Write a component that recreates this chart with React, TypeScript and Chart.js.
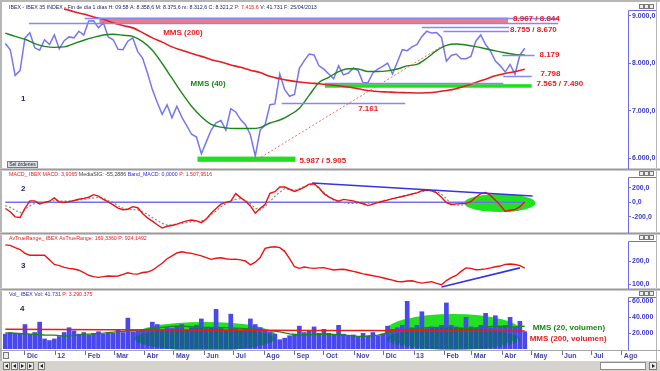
import React, { useEffect, useRef } from "react";
import { Chart, registerables } from "chart.js";

Chart.register(...registerables);

// ---------- calendar helpers (x axis = days since 1 Dic 2011) ----------
const DAY_MS = 86400000;
const ORIGIN = Date.UTC(2011, 11, 1);
const D = (y: number, m: number, d: number) => Math.round((Date.UTC(y, m - 1, d) - ORIGIN) / DAY_MS);

// ---------- axis ticks ----------
const monthTickLabels = ["Dic", "12", "Feb", "Mar", "Abr", "May", "Jun", "Jul", "Ago", "Sep", "Oct", "Nov", "Dic", "13", "Feb", "Mar", "Abr", "May", "Jun", "Jul", "Ago"];
const monthTickStarts: [number, number][] = [
  [2011, 12], [2012, 1], [2012, 2], [2012, 3], [2012, 4], [2012, 5], [2012, 6], [2012, 7], [2012, 8], [2012, 9], [2012, 10], [2012, 11], [2012, 12],
  [2013, 1], [2013, 2], [2013, 3], [2013, 4], [2013, 5], [2013, 6], [2013, 7], [2013, 8],
];
const priceTicks = [6000, 7000, 8000, 9000];
const macdTicks = [-200, 0, 200];
const atrTicks = [100, 200];
const volTicks = [20000, 40000, 60000];

// ---------- series (sampled every STEP days from SERIES_FIRST) ----------
const SERIES_FIRST = D(2011, 11, 11);
const STEP = 5;
const MA_STEP = 10;
const MA200_FIRST = D(2012, 1, 10);
const VOL_MA200_STEP = 53;

const ibexClose = [
  8420, 8290, 7750, 7850, 8537, 8650, 8330, 8280, 8500, 8400,
  8600, 8310, 8480, 8560, 8540, 8680, 8600, 8895, 8900, 8750,
  8860, 8560, 8500, 8300, 8290, 8470, 8540, 8250, 8115, 7800,
  7450, 7180, 6930, 7130, 6860, 7100, 6870, 6690, 6510, 6450,
  6100, 6350, 6600, 6750, 6800, 6600, 7050, 6980, 6820, 6710,
  6500, 6050, 6600, 6710, 7133, 7150, 7780, 7450, 7310, 7350,
  7900, 8060, 8200, 8180, 7950, 7880, 7780, 7680, 7950, 7760,
  7800, 7905, 7850, 7590, 7600, 7800, 7880, 7940, 8010, 7780,
  8030, 8290, 8270, 8350, 8400, 8570, 8680, 8640, 8650, 8550,
  8050, 8170, 8200, 8100, 8100, 8150, 8470, 8600, 8400, 8260,
  8050, 7950, 7820, 7980, 7770, 8180, 8321,
];
const mms40 = [
  8640, 8570, 8510, 8420, 8360, 8340, 8350, 8420, 8490, 8550,
  8600, 8615, 8595, 8570, 8460, 8280, 8000, 7690, 7380, 7100,
  6880, 6720, 6660, 6635, 6630, 6630, 6650, 6747, 6810, 6915,
  7060, 7330, 7600, 7710, 7830, 7890, 7885, 7830, 7830, 7845,
  7885, 7950, 7980, 8110, 8270, 8380, 8410, 8390, 8355, 8310,
  8265, 8225, 8190, 8179,
];
const mms200 = [
  9150, 9090, 9040, 8980, 8930, 8860, 8800, 8750, 8650, 8540,
  8450, 8350, 8280, 8210, 8150, 8080, 8030, 7970, 7920, 7860,
  7810, 7730, 7680, 7640, 7610, 7590, 7575, 7555, 7530, 7505,
  7470, 7430, 7410, 7400, 7390, 7385, 7380, 7385, 7400, 7430,
  7470, 7530, 7600, 7670, 7740, 7790, 7830, 7880,
];
const macd = [
  -85, -130, -200, -210, -83, 20, 20, -22, -2, 15,
  60, 5, 0, 10, 25, 42, 55, 70, 105, 85,
  40, 5, -35, -80, -103, -95, -60, -75, -155, -215,
  -260, -310, -355, -330, -320, -300, -276, -255, -244, -255,
  -280, -230, -150, -85, -25, 0, 15, 120, 65, 15,
  -50, -150, -83, -30, 124, 147, 210, 210, 180, 150,
  175, 210, 250, 255, 200, 120, 75, 40, 15, 40,
  30, 20, 0, -20, -45, -25, -5, 15, 30, 50,
  65, 80, 95, 115, 130, 160, 170, 158, 130, 70,
  -5, -30, -22, -18, -15, 10, 70, 120, 135, 95,
  30, -40, -125, -110, -100, -60, 4,
];
const mediaSig = [
  -45, -70, -110, -145, -100, -50, -15, -5, -5, 5,
  25, 20, 15, 18, 20, 30, 40, 50, 62, 70,
  55, 25, 0, -50, -80, -97, -100, -105, -130, -165,
  -210, -250, -290, -313, -310, -300, -290, -280, -270, -265,
  -260, -230, -170, -120, -60, -20, 20, 40, 50, 30,
  -20, -80, -106, -55, 10, 83, 140, 190, 180, 165,
  190, 215, 240, 250, 190, 140, 70, 30, 9, -5,
  -14, -15, -14, -14, -14, -10, 5, 23, 38, 52,
  69, 85, 100, 115, 130, 148, 161, 160, 150, 110,
  50, -20, -40, -40, -30, -18, 10, 32, 40, 35,
  -20, -80, -110, -129, -115, -97, -55,
];
const bandMacd = [0, 0];
const avTrueRange = [
  270, 268, 258, 250, 233, 225, 225, 225, 225, 205,
  185, 180, 172, 168, 165, 160, 150, 138, 132, 129,
  132, 135, 134, 135, 142, 149, 144, 143, 150, 152,
  160, 175, 190, 210, 222, 235, 240, 236, 233, 228,
  222, 215, 207, 212, 214, 210, 207, 208, 205, 200,
  183, 195, 215, 255, 260, 262, 258, 242, 210, 175,
  168, 174, 170, 168, 170, 171, 166, 161, 163, 164,
  160, 155, 150, 144, 140, 136, 132, 127, 122, 117,
  111, 110, 113, 114, 108, 104, 107, 110, 103, 97,
  115, 128, 137, 155, 170, 168, 162, 163, 166, 170,
  175, 178, 185, 187, 185, 180, 169,
];
const volumen = [
  19000, 21000, 19000, 20000, 31000, 19000, 21000, 34000, 13000, 11000,
  13000, 16000, 21000, 27000, 23000, 19000, 21000, 18000, 20000, 22000,
  19000, 21000, 20000, 25000, 21000, 39000, 22000, 23000, 25000, 24000,
  34000, 31000, 24000, 27000, 26000, 29000, 31000, 24000, 27000, 30000,
  38000, 26000, 27000, 50000, 26000, 24000, 44000, 26000, 24000, 25000,
  38000, 31000, 27000, 23000, 21000, 19000, 12000, 14000, 17000, 19000,
  29000, 21000, 23000, 28000, 20000, 25000, 20000, 18000, 30000, 19000,
  17000, 18000, 16000, 20000, 17000, 21000, 17000, 19000, 29000, 25000,
  27000, 30000, 60000, 27000, 30000, 47000, 26000, 28000, 27000, 30000,
  58000, 30000, 28000, 27000, 40000, 28000, 27000, 30000, 45000, 27000,
  42000, 29000, 30000, 40000, 27000, 35000, 22000,
];
const volMms20 = [
  20000, 19700, 19000, 18300, 17500, 17300, 16000, 16800, 18300, 19000,
  19800, 21000, 22000, 23000, 24200, 25300, 27000, 28200, 28500, 27800,
  27000, 27000, 26800, 26500, 25800, 25000, 24000, 23000, 21500, 18800,
  17500, 17800, 18200, 18500, 17800, 17000, 15800, 16000, 17300, 20000,
  23500, 24800, 25500, 26800, 27000, 27000, 26000, 25500, 26000, 27500,
  28500, 28000, 27500, 28500,
];
const volMms200 = [24600, 24400, 24000, 23700, 23500, 23400, 23200, 23000, 22800, 22600, 22500];

// ---------- drawn annotations (dates + index levels) ----------
const levelLines = [
  { v: 8844, from: D(2011, 12, 5), to: D(2013, 5, 28) },
  { v: 8967, from: D(2012, 1, 31), to: D(2013, 5, 28) },
  { v: 8768, from: D(2013, 1, 9), to: D(2013, 4, 8) },
  { v: 8677, from: D(2013, 1, 31), to: D(2013, 4, 8) },
  { v: 8179, from: D(2013, 4, 1), to: D(2013, 5, 4) },
  { v: 7745, from: D(2013, 4, 2), to: D(2013, 5, 1) },
  { v: 7580, from: D(2012, 10, 2), to: D(2013, 4, 2) },
  { v: 7168, from: D(2012, 8, 19), to: D(2012, 12, 23) },
];
const levelBands = [
  { top: 8967, bottom: 8844, from: D(2012, 2, 15), to: D(2013, 4, 7), color: "#f47a7a" },
  { top: 7565, bottom: 7490, from: D(2012, 10, 2), to: D(2013, 5, 1), color: "#1ee01e" },
  { top: 6040, bottom: 5930, from: D(2012, 5, 25), to: D(2012, 9, 2), color: "#1ee01e" },
];
const trendLines = [
  { axis: "yP", x1: D(2012, 7, 22), y1: 5940, x2: D(2013, 1, 30), y2: 8370, color: "#f06a6a", width: 1, dash: [2, 2] },
  { axis: "yM", x1: D(2012, 9, 19), y1: 266, x2: D(2013, 5, 2), y2: 87, color: "#3434e6", width: 1.6, dash: [] },
  { axis: "yA", x1: D(2013, 1, 29), y1: 87, x2: D(2013, 4, 19), y2: 170, color: "#3434e6", width: 1.6, dash: [] },
];
const macdEllipses = [{ from: D(2013, 2, 21), to: D(2013, 5, 5), low: -134, high: 114 }];
const volHalos = [
  { from: D(2012, 3, 20), to: D(2012, 8, 14), low: -2500, high: 33750 },
  { from: D(2012, 12, 2), to: D(2013, 4, 21), low: -1250, high: 43750 },
];
const volShades = [
  { from: D(2012, 3, 21), to: D(2012, 8, 12), low: -1500, high: 26250 },
  { from: D(2012, 12, 4), to: D(2013, 4, 19), low: -1500, high: 26250 },
];

const RED = "#e81c1c";
const GREEN = "#1b861b";
const NAVY = "#23236e";
const AXIS_BLUE = "#3838c8";
const FONT = "'Liberation Sans', Arial, sans-serif";

const notes = [
  { axis: "yP", x: D(2012, 4, 20), y: 8636, text: "MMS (200)", color: RED, size: 8 },
  { axis: "yP", x: D(2012, 5, 18), y: 7568, text: "MMS (40)", color: GREEN, size: 8 },
  { axis: "yP", x: D(2011, 11, 27), y: 7253, text: "1", color: NAVY, size: 8 },
  { axis: "yP", x: D(2013, 4, 12), y: 8947, text: "8.967 / 8.844", color: RED, size: 8 },
  { axis: "yP", x: D(2013, 4, 9), y: 8716, text: "8.755 / 8.670", color: RED, size: 8 },
  { axis: "yP", x: D(2013, 5, 9), y: 8179, text: "8.179", color: RED, size: 8 },
  { axis: "yP", x: D(2013, 5, 10), y: 7779, text: "7.798", color: RED, size: 8 },
  { axis: "yP", x: D(2013, 5, 6), y: 7568, text: "7.565 / 7.490", color: RED, size: 8 },
  { axis: "yP", x: D(2012, 11, 5), y: 7042, text: "7.161", color: RED, size: 8 },
  { axis: "yP", x: D(2012, 9, 6), y: 5947, text: "5.987 / 5.905", color: RED, size: 8 },
  { axis: "yM", x: D(2011, 11, 27), y: 183, text: "2", color: NAVY, size: 8 },
  { axis: "yA", x: D(2011, 11, 27), y: 180, text: "3", color: NAVY, size: 8 },
  { axis: "yV", x: D(2011, 11, 26), y: 50000, text: "4", color: NAVY, size: 8 },
  { axis: "yV", x: D(2013, 5, 2), y: 26250, text: "MMS (20, volumen)", color: GREEN, size: 8 },
  { axis: "yV", x: D(2013, 4, 29), y: 12500, text: "MMS (200, volumen)", color: RED, size: 8 },
];

const headers: { axis: string; parts: [string, string][] }[] = [
  { axis: "yP", parts: [["IBEX - IBEX 35 INDEX - Fin de día 1 días H: 09:58 A: 8.358,6 M: 8.375,6 m: 8.312,6 C: 8.321,2 ", NAVY], ["P: 7.415,6 ", RED], ["V: 41.731 F: 25/04/2013", NAVY]] },
  { axis: "yM", parts: [["MACD_ IBEX MACD: 3,9065 ", RED], ["MediaSIG: -55,2886 ", "#404040"], ["Band_MACD: 0,0000 ", "#2c2ce0"], ["P: 1.507,9516", RED]] },
  { axis: "yA", parts: [["AvTrueRange_ IBEX AvTrueRange: 169,3360 P: 924,1492", RED]] },
  { axis: "yV", parts: [["Vol_ IBEX Vol: 41.731 ", "#2c2cb0"], ["P: 3.290.375", RED]] },
];

// ---------- helpers ----------
const xy = (vals: number[], first: number, step: number) => vals.map((v, i) => ({ x: first + i * step, y: v }));
const esNum = (v: number, dec: number) => {
  const s = Math.abs(v).toFixed(dec);
  const [ip, fp] = s.split(".");
  const grouped = ip.replace(/\B(?=(\d{3})+(?!\d))/g, ".");
  return (v < 0 ? "-" : "") + grouped + (fp ? "," + fp : "");
};

function ellipsePath(ctx: CanvasRenderingContext2D, xs: any, ys: any, e: any) {
  const x1 = xs.getPixelForValue(e.from), x2 = xs.getPixelForValue(e.to);
  const y1 = ys.getPixelForValue(e.high), y2 = ys.getPixelForValue(e.low);
  ctx.beginPath();
  ctx.ellipse((x1 + x2) / 2, (y1 + y2) / 2, Math.abs(x2 - x1) / 2, Math.abs(y2 - y1) / 2, 0, 0, Math.PI * 2);
}
function clipPanel(ctx: CanvasRenderingContext2D, xs: any, ys: any) {
  ctx.beginPath();
  ctx.rect(xs.left, ys.top, xs.right - xs.left, ys.bottom - ys.top);
  ctx.clip();
}
function smallBox(ctx: CanvasRenderingContext2D, x: number, y: number, w: number, h: number) {
  ctx.fillStyle = "#ececec";
  ctx.fillRect(x, y, w, h);
  ctx.strokeStyle = "#7a7a7a";
  ctx.lineWidth = 1;
  ctx.strokeRect(x + 0.5, y + 0.5, w - 1, h - 1);
}

const overlayPlugin = {
  id: "ibexOverlay",
  beforeDatasetsDraw(chart: any) {
    const { ctx, scales } = chart;
    const xs = scales.x;
    ctx.save();
    clipPanel(ctx, xs, scales.yP);
    for (const b of levelBands) {
      const x1 = xs.getPixelForValue(b.from), x2 = xs.getPixelForValue(b.to);
      const y1 = scales.yP.getPixelForValue(b.top), y2 = scales.yP.getPixelForValue(b.bottom);
      ctx.fillStyle = b.color;
      ctx.fillRect(x1, y1, x2 - x1, y2 - y1);
    }
    ctx.restore();
    ctx.save();
    clipPanel(ctx, xs, scales.yM);
    ctx.fillStyle = "#1ee41e";
    for (const e of macdEllipses) {
      ellipsePath(ctx, xs, scales.yM, e);
      ctx.fill();
    }
    ctx.restore();
  },
  afterDatasetDraw(chart: any, args: any) {
    const ds = chart.data.datasets[args.index];
    if (ds.label !== "Vol") return;
    const { ctx, scales } = chart;
    ctx.save();
    clipPanel(ctx, scales.x, scales.yV);
    ctx.globalCompositeOperation = "source-atop";
    ctx.fillStyle = "#1f5a9c";
    for (const e of volShades) {
      ellipsePath(ctx, scales.x, scales.yV, e);
      ctx.fill();
    }
    ctx.globalCompositeOperation = "destination-over";
    ctx.fillStyle = "#22e022";
    for (const e of volHalos) {
      ellipsePath(ctx, scales.x, scales.yV, e);
      ctx.fill();
    }
    ctx.restore();
  },
  afterDatasetsDraw(chart: any) {
    const { ctx, scales } = chart;
    const xs = scales.x;
    ctx.save();
    ctx.strokeStyle = "#8686f4";
    ctx.lineWidth = 1.5;
    for (const l of levelLines) {
      const y = Math.round(scales.yP.getPixelForValue(l.v)) + 0.5;
      ctx.beginPath();
      ctx.moveTo(xs.getPixelForValue(l.from), y);
      ctx.lineTo(xs.getPixelForValue(l.to), y);
      ctx.stroke();
    }
    for (const t of trendLines) {
      const ys = scales[t.axis];
      ctx.save();
      clipPanel(ctx, xs, ys);
      ctx.strokeStyle = t.color;
      ctx.lineWidth = t.width;
      ctx.setLineDash(t.dash);
      ctx.beginPath();
      ctx.moveTo(xs.getPixelForValue(t.x1), ys.getPixelForValue(t.y1));
      ctx.lineTo(xs.getPixelForValue(t.x2), ys.getPixelForValue(t.y2));
      ctx.stroke();
      ctx.restore();
    }
    ctx.textBaseline = "middle";
    ctx.textAlign = "left";
    for (const n of notes) {
      ctx.font = `bold ${n.size}px ${FONT}`;
      ctx.fillStyle = n.color;
      ctx.fillText(n.text, xs.getPixelForValue(n.x), scales[n.axis].getPixelForValue(n.y));
    }
    ctx.restore();
  },
  afterDraw(chart: any) {
    const { ctx, scales, chartArea } = chart;
    const W = chart.width;
    const H = chart.height;
    ctx.save();
    // outer frame
    ctx.fillStyle = "#b6b6b6";
    ctx.fillRect(0, 0, W, 2);
    ctx.fillRect(0, 0, 2, H);
    ctx.fillRect(W - 4, 0, 1, 361);
    // panel separators
    for (const id of ["yM", "yA", "yV"]) {
      const y = Math.round(scales[id].top);
      ctx.fillStyle = "#c9c9c9";
      ctx.fillRect(0, y - 1, W, 3);
      ctx.fillStyle = "#9c9c9c";
      ctx.fillRect(0, y, W, 1);
    }
    ctx.fillStyle = "#a8a8a8";
    ctx.fillRect(0, Math.round(chartArea.bottom), W, 1);
    // axis boxes + window buttons
    const ax = Math.round(chartArea.right) + 0.5;
    for (const id of ["yP", "yM", "yA", "yV"]) {
      const s = scales[id];
      const top = Math.round(s.top);
      ctx.strokeStyle = "#6c6cf0";
      ctx.lineWidth = 1;
      ctx.beginPath();
      ctx.moveTo(ax, top + 8.5);
      ctx.lineTo(ax, s.bottom);
      ctx.moveTo(ax, top + 8.5);
      ctx.lineTo(W - 4, top + 8.5);
      ctx.stroke();
      for (let k = 0; k < 3; k++) smallBox(ctx, 639 + k * 5, top + 2, 5, 5);
    }
    // headers
    ctx.font = `10px ${FONT}`;
    const full = headers[0].parts.map((p) => p[0]).join("");
    const hSize = (10 * 308) / ctx.measureText(full).width;
    ctx.font = `${hSize}px ${FONT}`;
    ctx.textBaseline = "middle";
    ctx.textAlign = "left";
    for (const h of headers) {
      let cx = 9;
      const cy = scales[h.axis].top + 5.5;
      for (const [t, c] of h.parts) {
        ctx.fillStyle = c;
        ctx.fillText(t, cx, cy);
        cx += ctx.measureText(t).width;
      }
    }
    // "Sel órdenes" button
    const by = Math.round(scales.yP.bottom) - 8;
    ctx.fillStyle = "#dde1ea";
    ctx.fillRect(7, by, 31, 7);
    ctx.strokeStyle = "#6f7c98";
    ctx.strokeRect(7.5, by + 0.5, 30, 6);
    ctx.fillStyle = "#222";
    ctx.font = `5px ${FONT}`;
    ctx.textAlign = "center";
    ctx.fillText("Sel órdenes", 22.5, by + 3.8);
    // bottom scroll bar
    ctx.fillStyle = "#d6d3ce";
    ctx.fillRect(0, 361, W, H - 361);
    for (let k = 0; k < 5; k++) smallBox(ctx, 3 + k * 8 + (k === 4 ? 3 : 0), 362, 7, 8);
    ctx.fillStyle = "#222";
    for (let k = 0; k < 5; k++) {
      const bx = 3 + k * 8 + (k === 4 ? 3 : 0);
      ctx.beginPath();
      if (k === 1 || k === 4 || k === 0) {
        ctx.moveTo(bx + 5, 364); ctx.lineTo(bx + 2, 366); ctx.lineTo(bx + 5, 368);
      } else {
        ctx.moveTo(bx + 2, 364); ctx.lineTo(bx + 5, 366); ctx.lineTo(bx + 2, 368);
      }
      ctx.fill();
    }
    ctx.fillStyle = "#ffffff";
    ctx.fillRect(600, 362, 46, 8);
    ctx.strokeStyle = "#8a8a8a";
    ctx.strokeRect(600.5, 362.5, 45, 7);
    smallBox(ctx, 649, 362, 8, 8);
    ctx.fillStyle = "#222";
    ctx.beginPath(); ctx.moveTo(652, 364); ctx.lineTo(655, 366); ctx.lineTo(652, 368); ctx.fill();
    smallBox(ctx, 3, 352, 6, 7);
    ctx.restore();
  },
};

export default function App() {
  const ref = useRef<HTMLCanvasElement | null>(null);

  useEffect(() => {
    if (!ref.current) return;
    const monthDays = monthTickStarts.map(([y, m]) => D(y, m, 1));
    const yAxis = (min: number, max: number, weight: number, ticks: number[], fmt: (v: number) => string) => ({
      type: "linear",
      position: "right",
      stack: "panels",
      stackWeight: weight,
      min,
      max,
      afterBuildTicks: (s: any) => { s.ticks = ticks.map((v) => ({ value: v })); },
      afterFit: (s: any) => { s.width = 32; s.paddingTop = 0; s.paddingBottom = 0; },
      grid: { display: true, drawOnChartArea: false, drawTicks: true, tickLength: 3, color: "#6c6cf0", lineWidth: 1 },
      border: { display: false },
      ticks: { autoSkip: false, padding: 1, color: AXIS_BLUE, font: { family: FONT, size: 7, weight: "bold" }, callback: (v: any) => fmt(Number(v)) },
    });

    const chart = new Chart(ref.current, {
      type: "line",
      data: {
        datasets: [
          { label: "IBEX", data: xy(ibexClose, SERIES_FIRST, STEP), yAxisID: "yP", borderColor: "#7676f2", borderWidth: 1.5, pointRadius: 0, order: 50 },
          { label: "MMS40", data: xy(mms40, SERIES_FIRST, MA_STEP), yAxisID: "yP", borderColor: GREEN, borderWidth: 1.4, pointRadius: 0, order: 20, cubicInterpolationMode: "monotone" },
          { label: "MMS200", data: xy(mms200, MA200_FIRST, MA_STEP), yAxisID: "yP", borderColor: RED, borderWidth: 1.6, pointRadius: 0, order: 10, cubicInterpolationMode: "monotone" },
          { label: "Band_MACD", data: xy(bandMacd, SERIES_FIRST, (ibexClose.length - 1) * STEP), yAxisID: "yM", borderColor: "#7070f8", borderWidth: 1.5, pointRadius: 0, order: 45 },
          { label: "MediaSIG", data: xy(mediaSig, SERIES_FIRST, STEP), yAxisID: "yM", borderColor: "#8a8a8a", borderWidth: 1.2, borderDash: [2, 2], pointRadius: 0, order: 40 },
          { label: "MACD", data: xy(macd, SERIES_FIRST, STEP), yAxisID: "yM", borderColor: "#ee1111", borderWidth: 1.4, pointRadius: 0, order: 30 },
          { label: "AvTrueRange", data: xy(avTrueRange, SERIES_FIRST, STEP), yAxisID: "yA", borderColor: "#ee1111", borderWidth: 1.4, pointRadius: 0, order: 30 },
          { type: "bar", label: "Vol", data: xy(volumen, SERIES_FIRST, STEP), yAxisID: "yV", backgroundColor: "#4848ee", borderWidth: 0, barPercentage: 0.95, categoryPercentage: 1, order: 100 },
          { label: "VolMMS20", data: xy(volMms20, SERIES_FIRST, MA_STEP), yAxisID: "yV", borderColor: GREEN, borderWidth: 1.3, pointRadius: 0, order: 20 },
          { label: "VolMMS200", data: xy(volMms200, SERIES_FIRST, VOL_MA200_STEP), yAxisID: "yV", borderColor: RED, borderWidth: 1.5, pointRadius: 0, order: 10 },
        ] as any,
      },
      options: {
        animation: false,
        responsive: false,
        devicePixelRatio: 1,
        events: [],
        layout: { padding: { left: 3, top: 2, right: 0, bottom: 0 }, autoPadding: false },
        plugins: { legend: { display: false }, tooltip: { enabled: false } },
        scales: {
          x: {
            type: "linear",
            position: "bottom",
            min: -22.4,
            max: 615.3,
            offset: false,
            afterBuildTicks: (s: any) => { s.ticks = monthDays.map((v) => ({ value: v })); },
            afterFit: (s: any) => { s.height = 21; s.paddingLeft = 0; s.paddingRight = 0; },
            grid: { display: true, drawOnChartArea: false, drawTicks: true, tickLength: 5, color: "#6a6ab8", offset: false },
            border: { display: false },
            ticks: {
              autoSkip: false, maxRotation: 0, minRotation: 0, align: "start", labelOffset: 2, padding: -3,
              color: "#4646a6", font: { family: FONT, size: 7, weight: "bold" },
              callback: (_v: any, i: number) => monthTickLabels[i],
            },
          },
          yP: yAxis(5778.9, 9294.7, 167, priceTicks, (v) => esNum(v, 1)),
          yM: yAxis(-423, 459, 64, macdTicks, (v) => esNum(v, 1)),
          yA: yAxis(78.3, 321.7, 56, atrTicks, (v) => esNum(v, 1)),
          yV: yAxis(-1250, 75000, 61, volTicks, (v) => esNum(v, 0)),
        } as any,
      },
      plugins: [overlayPlugin as any],
    } as any);
    return () => chart.destroy();
  }, []);

  return (
    <div style={{ position: "absolute", left: 0, top: 0, width: 660, height: 371, background: "#ffffff", overflow: "hidden" }}>
      <canvas ref={ref} width={660} height={371} style={{ display: "block" }} />
    </div>
  );
}
